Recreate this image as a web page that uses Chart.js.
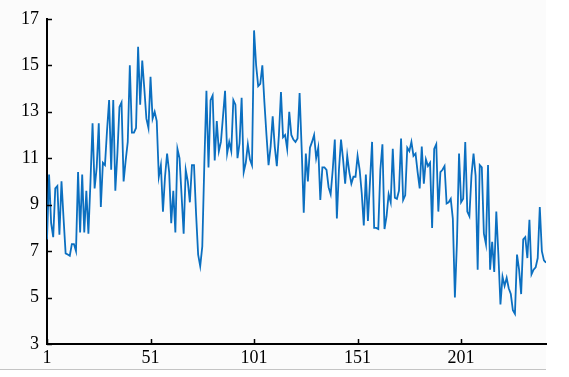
<!DOCTYPE html>
<html>
<head>
<meta charset="utf-8">
<script src="https://cdn.jsdelivr.net/npm/chart.js@4"></script>
<style>
  html, body { margin: 0; padding: 0; background: #fff; }
  #wrap { width: 569px; height: 377px; }
</style>
</head>
<body>
<div id="wrap"><canvas id="chart"></canvas></div>
<script>
// tick labels
const xTicks = [1, 51, 101, 151, 201];
const yTicks = [3, 5, 7, 9, 11, 13, 15, 17];

// series values (index 1..242)
const values = [
  7.5, 10.3, 8.2, 7.6, 9.7, 9.8, 7.7, 10.0, 8.4, 6.9,
  6.85, 6.8, 7.3, 7.3, 7.0, 10.4, 7.8, 10.3, 7.8, 9.6,
  7.75, 10.0, 12.5, 9.7, 10.6, 12.5, 8.9, 10.8, 10.7, 12.2,
  13.5, 10.5, 13.5, 9.6, 11.2, 13.2, 13.4, 10.0, 10.9, 11.7,
  15.0, 12.1, 12.1, 12.3, 15.8, 13.3, 15.2, 14.0, 12.7, 12.3,
  14.5, 12.7, 13.0, 12.6, 10.2, 10.7, 8.7, 10.2, 11.2, 10.4,
  8.2, 9.6, 7.8, 11.4, 11.0, 9.4, 7.75, 10.5, 10.0, 9.1,
  10.7, 10.7, 8.6, 6.85, 6.35, 7.2, 10.8, 13.9, 10.6, 13.5,
  13.7, 10.9, 12.6, 11.3, 11.7, 12.8, 13.9, 11.2, 11.7, 11.3,
  13.5, 13.3, 11.0, 11.65, 13.6, 10.4, 10.8, 11.6, 10.95, 10.7,
  16.5, 15.0, 14.1, 14.2, 15.0, 13.4, 12.0, 10.7, 11.5, 12.8,
  11.5, 10.66, 12.0, 13.85, 11.9, 12.0, 11.4, 13.0, 12.0, 11.8,
  11.7, 11.85, 13.8, 11.4, 8.65, 11.2, 10.0, 11.45, 11.7, 12.0,
  11.0, 11.45, 9.2, 10.6, 10.6, 10.5, 9.75, 9.45, 10.5, 11.8,
  8.4, 10.5, 11.8, 10.95, 9.9, 11.1, 10.4, 9.9, 10.2, 10.2,
  11.1, 10.5, 9.5, 8.1, 10.3, 8.3, 10.0, 11.7, 8.0, 8.0,
  7.95, 10.5, 11.6, 7.95, 8.5, 9.45, 9.1, 11.4, 9.3, 9.25,
  9.6, 11.85, 9.2, 9.4, 11.45, 11.3, 11.7, 11.1, 11.2, 10.4,
  9.7, 11.5, 9.9, 10.95, 10.66, 10.8, 8.0, 11.4, 11.6, 8.7,
  10.4, 10.5, 10.66, 9.05, 9.1, 9.25, 8.4, 5.0, 7.4, 11.2,
  9.1, 9.25, 11.7, 8.7, 8.5, 10.25, 11.2, 10.25, 6.2, 10.7,
  10.6, 7.75, 7.3, 10.7, 6.2, 7.4, 6.1, 8.7, 6.85, 4.7,
  5.9, 5.5, 5.85, 5.4, 5.15, 4.45, 4.3, 6.85, 6.2, 5.15,
  7.5, 7.6, 6.7, 8.35, 6.0, 6.2, 6.3, 6.7, 8.9, 7.0,
  6.6, 6.5
];
const indices = values.map((v, i) => i + 1);

const points = indices.map((x, i) => ({ x: x, y: values[i] }));

// light figure background plus inward ticks, MATLAB style
const matlabAxes = {
  id: "matlabAxes",
  beforeDraw(chart) {
    const ctx = chart.ctx;
    const area = chart.chartArea;
    ctx.save();
    ctx.fillStyle = "#fbfbfb";
    ctx.fillRect(0, 0, area.right, 369);
    ctx.strokeStyle = "#c4c4c4";
    ctx.lineWidth = 1;
    ctx.beginPath();
    ctx.moveTo(0, 369.5);
    ctx.lineTo(area.right, 369.5);
    ctx.stroke();
    ctx.restore();
  },
  afterDraw(chart) {
    const ctx = chart.ctx;
    const area = chart.chartArea;
    const xs = chart.scales.x;
    const ys = chart.scales.y;
    ctx.save();
    ctx.strokeStyle = "#000";
    ctx.lineWidth = 1.5;
    ctx.beginPath();
    xTicks.forEach(v => {
      const px = Math.round(xs.getPixelForValue(v)) + 0.5;
      ctx.moveTo(px, area.bottom);
      ctx.lineTo(px, area.bottom - 5);
    });
    yTicks.forEach(v => {
      const py = Math.round(ys.getPixelForValue(v)) + 0.5;
      ctx.moveTo(area.left, py);
      ctx.lineTo(area.left + 5, py);
    });
    ctx.stroke();
    ctx.restore();
  }
};

const tickFont = { family: "'Liberation Serif', 'Times New Roman', serif", size: 18 };

new Chart(document.getElementById("chart"), {
  type: "line",
  data: {
    datasets: [{
      data: points,
      borderColor: "#0b6fc0",
      borderWidth: 1.8,
      pointRadius: 0,
      tension: 0,
      fill: false
    }]
  },
  options: {
    responsive: true,
    maintainAspectRatio: false,
    animation: false,
    layout: { padding: { top: 14, right: 23, left: 0, bottom: 0 } },
    plugins: { legend: { display: false }, tooltip: { enabled: false } },
    scales: {
      x: {
        type: "linear",
        min: 1,
        max: 242,
        grid: { display: false, drawTicks: false },
        border: { display: true, color: "#000", width: 2 },
        afterBuildTicks: s => { s.ticks = xTicks.map(v => ({ value: v })); },
        afterFit: s => { s.height = 33; },
        ticks: { color: "#000", font: tickFont, padding: 3, maxRotation: 0, autoSkip: false }
      },
      y: {
        min: 3,
        max: 17,
        grid: { display: false, drawTicks: false },
        border: { display: true, color: "#000", width: 2 },
        afterBuildTicks: s => { s.ticks = yTicks.map(v => ({ value: v })); },
        afterFit: s => { s.width = 47; },
        ticks: { color: "#000", font: tickFont, padding: 8 }
      }
    }
  },
  plugins: [matlabAxes]
});
</script>
</body>
</html>
